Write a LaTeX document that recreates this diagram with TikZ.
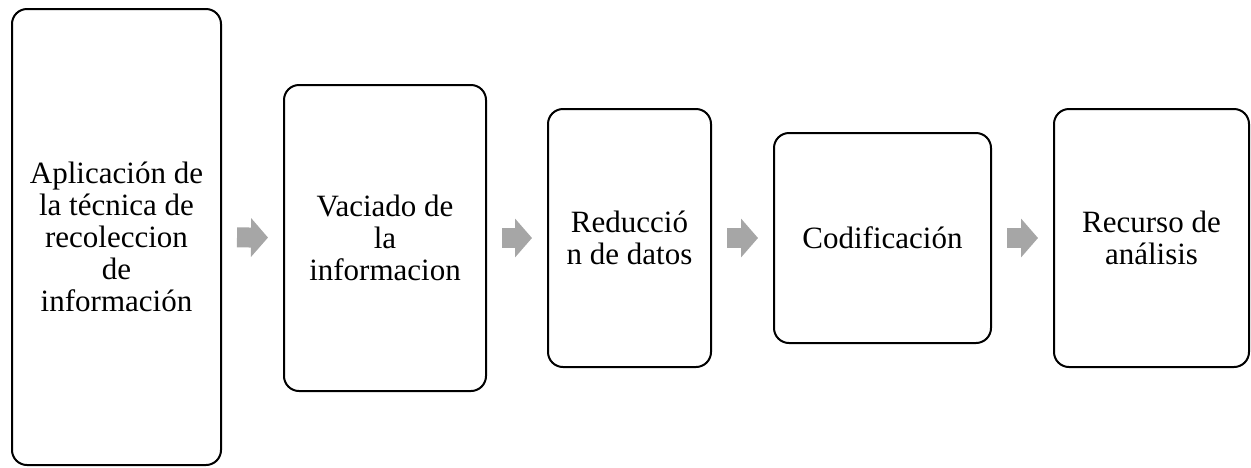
\documentclass[tikz,border=0pt]{standalone}
\usepackage{fontspec}
\setmainfont{Liberation Serif}
\usetikzlibrary{arrows.meta}
\definecolor{flechagris}{RGB}{166,166,166}
\tikzset{
  paso/.style={draw=black, line width=2pt, rounded corners=15pt, align=center,
    inner sep=4pt, font=\fontsize{31}{32}\selectfont},
  flecha/.style={flechagris, line width=20pt,
    -{Triangle[width=38pt,length=17pt]}, shorten <=15pt, shorten >=15pt}
}

\begin{document}
\begin{tikzpicture}[x=1pt,y=-1pt]
  \useasboundingbox (0,0) rectangle (1251,467);

  \node[paso, minimum width=209pt, minimum height=456pt] (aplicacion) at (116.5,237)
    {Aplicación de\\la técnica de\\recoleccion\\de\\información};
  \node[paso, minimum width=202pt, minimum height=306pt] (vaciado) at (385,238)
    {Vaciado de\\la\\informacion};
  \node[paso, minimum width=163pt, minimum height=258pt] (reduccion) at (629.5,238)
    {Reducció\\n de datos};
  \node[paso, minimum width=217pt, minimum height=210pt] (codificacion) at (882.5,238)
    {Codificación};
  \node[paso, minimum width=195pt, minimum height=258pt] (recurso) at (1151.5,238)
    {Recurso de\\análisis};

  % flechas entre pasos
  \draw[flecha] (aplicacion) -- (vaciado);
  \draw[flecha] (vaciado) -- (reduccion);
  \draw[flecha] (reduccion) -- (codificacion);
  \draw[flecha] (codificacion) -- (recurso);
\end{tikzpicture}
\end{document}
